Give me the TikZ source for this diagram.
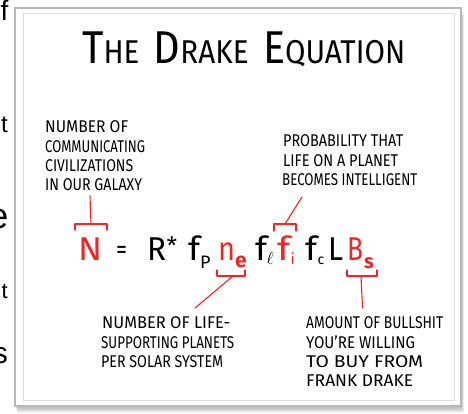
\documentclass[tikz,border=0pt]{standalone}
\usepackage{fontspec}
\usepackage{graphicx}
\setmainfont{Fira Sans}
\newfontfamily\arialf{Liberation Sans}
\definecolor{xred}{RGB}{245,35,35}
\newcommand\fitw[2]{\resizebox{#1pt}{\height}{#2}}
\newcommand\fsz[1]{\fontsize{#1}{#1}\selectfont}
\begin{document}
\begin{tikzpicture}[x=1pt,y=-1pt,
  lbl/.style={anchor=base west, inner sep=0pt, font=\fsz{17}},
  eq/.style={anchor=base west, inner sep=0pt, font=\fsz{33}},
  sub/.style={anchor=base west, inner sep=0pt},
  bg/.style={anchor=base east, inner sep=0pt, text=black},
  br/.style={draw=xred, line width=1.1pt, line join=round, line cap=round},
  frameo/.style={draw=black!28, line width=1.4pt},
  framei/.style={draw=black!14, line width=0.9pt}]
\useasboundingbox (0,0) rectangle (468,413);
\clip (0,0) rectangle (468,413);
% text of the page behind
\node[bg, font=\arialf\fsz{28}] (bf) at (8.5,20) {f};
\node[bg, font=\arialf\fsz{24}] (bt1) at (8,132) {t};
\node[bg, font=\arialf\fsz{36}] (be) at (8.5,228) {e};
\node[bg, font=\arialf\fsz{22}] (bt2) at (8,298) {t};
\node[bg, font=\arialf\fsz{30}] (bs) at (8,363) {s};
% frame with shadow
\foreach \i in {1,...,8}
  \fill[black, opacity=0.04] (15+\i*0.3, 8+\i*0.8) rectangle (461+\i*0.4, 406+\i*0.9);
\fill[white] (15,8) rectangle (461,406);
\draw[frameo] (15,8) rectangle (461,406);
\draw[framei] (23,13) rectangle (454,400);
% title
\node[anchor=base west, inner sep=0pt] (title) at (82,63)
  {\fitw{323}{{\fsz{46}T}{\fsz{33}HE}\hspace{16pt}{\fsz{46}D}{\fsz{33}RAKE}\hspace{16pt}{\fsz{46}E}{\fsz{33}QUATION}}};
% label 1
\node[lbl] (a1) at (45,132) {\fitw{83}{NUMBER OF}};
\node[lbl] (a2) at (45,152) {\fitw{100}{COMMUNICATING}};
\node[lbl] (a3) at (45,171) {\fitw{88}{CIVILIZATIONS}};
\node[lbl] (a4) at (45,190) {\fitw{97}{IN OUR GALAXY}};
% label 2
\node[lbl] (b1) at (283,146) {\fitw{120}{PROBABILITY THAT}};
\node[lbl] (b2) at (283,166) {\fitw{115}{LIFE ON A PLANET}};
\node[lbl] (b3) at (282,185) {\fitw{135}{BECOMES INTELLIGENT}};
% label 3
\node[lbl] (c1) at (102,328) {\fitw{128}{NUMBER OF LIFE-}};
\node[lbl] (c2) at (101,348) {\fitw{133}{SUPPORTING PLANETS}};
\node[lbl] (c3) at (101,367) {\fitw{122}{PER SOLAR SYSTEM}};
% label 4
\node[lbl] (d1) at (306,328) {\fitw{137}{AMOUNT OF BULLSHIT}};
\node[lbl] (d2) at (306,348) {\fitw{109}{YOU'RE WILLING}};
\node[lbl] (d3) at (306,367) {\fitw{117}{TO BUY FROM}};
\node[lbl] (d4) at (306,386) {\fitw{107}{FRANK DRAKE}};
% equation
\node[eq, text=xred] (eN) at (78,260) {\fitw{24}{N}};
\node[eq, font=\fsz{26}] (eeq) at (116,258) {\fitw{11}{=}};
\node[eq] (eR) at (147,260) {\fitw{19}{R}};
\node[eq, font=\fsz{24}] (est) at (166.5,254) {*};
\node[eq] (ef1) at (188,260) {\fitw{12}{f}};
\node[sub, font=\fsz{18}] (ep) at (200,268) {P};
\node[eq, text=xred] (en) at (218,260) {\fitw{17}{n}};
\node[sub, font=\fsz{21}\bfseries, text=xred] (ee) at (235,267) {e};
\node[eq] (ef2) at (255,260) {\fitw{12}{f}};
\node[sub, font=\fsz{17}] (el) at (266.5,264) {$\ell$};
\node[eq, text=xred] (ef3) at (277,260) {\fitw{13}{f}};
\node[sub, font=\fsz{15}, text=xred] (ei) at (290.5,264) {i};
\node[eq] (ef4) at (305,260) {\fitw{12}{f}};
\node[sub, font=\fsz{14}] (ec) at (317.5,264) {c};
\node[eq] (eL) at (328,260) {\fitw{15}{L}};
\node[eq, text=xred] (eB) at (347,260) {\fitw{16}{B}};
\node[sub, font=\fsz{20}\bfseries, text=xred] (es) at (364,268) {s};
% brackets and pointers
\coordinate (nA) at (75,230); \coordinate (nB) at (75,224);
\coordinate (nC) at (107,224); \coordinate (nD) at (107,230);
\coordinate (nM) at (91,224); \coordinate (nT) at (90,196);
\draw[br] (nA) -- (nB) -- (nC) -- (nD);
\draw[br] (nM) -- (nT);
\coordinate (iA) at (274,231); \coordinate (iB) at (274,224);
\coordinate (iC) at (296,224); \coordinate (iD) at (296,231);
\coordinate (iM) at (285,224); \coordinate (iT) at (302,197);
\draw[br] (iA) -- (iB) -- (iC) -- (iD);
\draw[br] (iM) -- (iT);
\coordinate (eA) at (217,270); \coordinate (eB2) at (217,276);
\coordinate (eC) at (245,276); \coordinate (eD) at (245,270);
\coordinate (eM) at (233,276); \coordinate (eT) at (195,308);
\draw[br] (eA) -- (eB2) -- (eC) -- (eD);
\draw[br] (eM) -- (eT);
\coordinate (sA) at (347,270); \coordinate (sB) at (347,276);
\coordinate (sC) at (377,276); \coordinate (sD) at (377,270);
\coordinate (sM) at (361,276); \coordinate (sT) at (362.5,308);
\draw[br] (sA) -- (sB) -- (sC) -- (sD);
\draw[br] (sM) -- (sT);
\end{tikzpicture}
\end{document}
